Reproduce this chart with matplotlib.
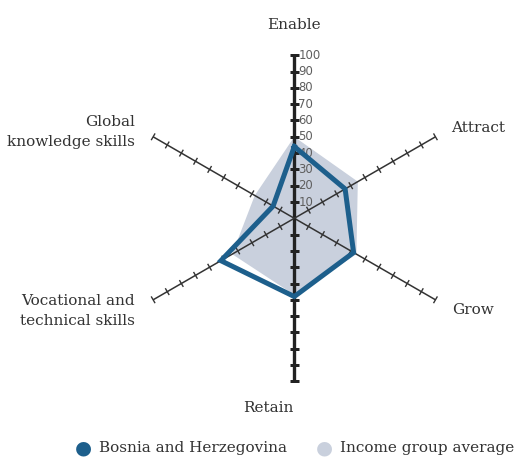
import numpy as np
import matplotlib
matplotlib.use("Agg")
import matplotlib.pyplot as plt

# pillars of the radar, clockwise from the top
pillars = ["Enable", "Attract", "Grow", "Retain",
           "Vocational and\ntechnical skills", "Global\nknowledge skills"]
angles_deg = [90, 30, -30, -90, 210, 150]
country = [44, 36, 42, 48, 52, 15]
income_avg = [50, 45, 44, 47, 44, 28]
tick_values = [10, 20, 30, 40, 50, 60, 70, 80, 90, 100]

blue = "#1d5f8c"
grey_fill = "#c9d0dd"
serif = "DejaVu Serif"
fs = 11

W, H = 514, 459
fig = plt.figure(figsize=(W / 100, H / 100), dpi=100)
ax = fig.add_axes([0, 0, 1, 1])
ax.set_axis_off()

# centre of the radar in pixels and pixels per unit
cx, cy, ppu = 294.3, 218.3, 1.63
ax.set_xlim(-cx / ppu, (W - cx) / ppu)
ax.set_ylim(-(H - cy) / ppu, cy / ppu)
ax.set_aspect("equal")

theta = np.radians(angles_deg)


def polar_xy(vals):
    vals = np.asarray(vals, dtype=float)
    return vals * np.cos(theta), vals * np.sin(theta)


# income group average (filled)
gx, gy = polar_xy(income_avg)
ax.fill(np.append(gx, gx[0]), np.append(gy, gy[0]), color=grey_fill,
        zorder=1, lw=0)

# axes with perpendicular ticks
tmax = tick_values[-1]
for ang in theta:
    vertical = abs(np.cos(ang)) < 1e-6
    lw = 2.4 if vertical else 1.1
    col = "#222222" if vertical else "#333333"
    half = 2.6 if vertical else 2.4
    ax.plot([0, tmax * np.cos(ang)], [0, tmax * np.sin(ang)], color=col,
            lw=lw, zorder=2, solid_capstyle="butt")
    px, py = -np.sin(ang), np.cos(ang)
    for t in tick_values:
        x0, y0 = t * np.cos(ang), t * np.sin(ang)
        ax.plot([x0 - half * px, x0 + half * px], [y0 - half * py, y0 + half * py],
                color=col, lw=lw * 0.9, zorder=2, solid_capstyle="butt")

# tick labels on the top axis
for t in tick_values:
    ax.text(2.4, t, str(t), fontsize=8.4, color="#5e5e5e", va="center",
            ha="left", zorder=3)

# country polygon
bx, by = polar_xy(country)
ax.plot(np.append(bx, bx[0]), np.append(by, by[0]), color=blue, lw=3.6,
        zorder=4, solid_joinstyle="miter")

# pillar labels (pixel positions)
label_pos = [(294, 25, "center"), (478, 128, "center"), (473, 310, "center"),
             (268, 408, "center"), (135, 311, "right"), (135, 132, "right")]
for name, (x, y, ha) in zip(pillars, label_pos):
    fig.text(x / W, 1 - y / H, name, ha=ha, va="center", fontsize=fs,
             family=serif, color="#333333", linespacing=1.6,
             multialignment="right" if ha == "right" else "center")

# legend
ly = 1 - 448 / H
fig.text(83 / W, ly, "\u25CF", color=blue, fontsize=14,
         ha="center", va="center", family="DejaVu Sans")
fig.text(99 / W, ly, "Bosnia and Herzegovina", fontsize=fs,
         family=serif, color="#333333", va="center")
fig.text(324 / W, ly, "\u25CF", color=grey_fill, fontsize=14,
         ha="center", va="center", family="DejaVu Sans")
fig.text(340 / W, ly, "Income group average", fontsize=fs,
         family=serif, color="#333333", va="center")

fig.savefig("out.png", dpi=100)
